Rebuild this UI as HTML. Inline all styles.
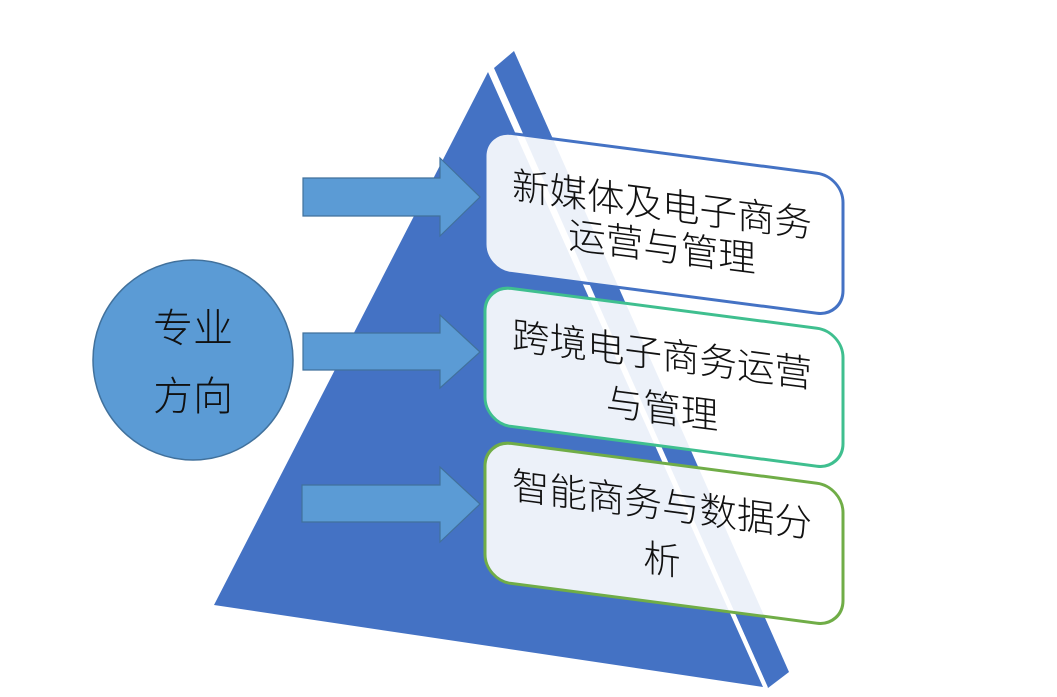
<!DOCTYPE html>
<html><head><meta charset="utf-8"><style>
html,body{margin:0;padding:0;background:#fff;}
svg{display:block;}
text{font-family:"Liberation Sans","Noto Sans CJK SC",sans-serif;fill:#111;font-weight:300;}
</style></head><body>
<svg width="1057" height="697" viewBox="0 0 1057 697" xmlns="http://www.w3.org/2000/svg">
<!-- pyramid -->
<polygon points="488,72 214,605 763,687" fill="#4472c4"/>
<polygon points="494,68 514,51 789,672 768,688" fill="#4472c4"/>
<line x1="491" y1="70" x2="766" y2="688" stroke="#fff" stroke-width="4"/>
<!-- circle -->
<circle cx="193" cy="360" r="100" fill="#5b9bd5" stroke="#41719c" stroke-width="1.5"/>
<text x="193" y="342" font-size="40" text-anchor="middle">专业</text>
<text x="193" y="410" font-size="40" text-anchor="middle">方向</text>
<!-- arrows -->
<polygon points="303,178 440,178 440,158 480,197 440,236 440,216 303,216" fill="#5b9bd5" stroke="#41719c" stroke-width="1.2"/>
<polygon points="303,333 440,333 440,315 480,352 440,388 440,370 303,370" fill="#5b9bd5" stroke="#41719c" stroke-width="1.2"/>
<polygon points="302,485 440,485 440,467 480,504 440,542 440,522 302,522" fill="#5b9bd5" stroke="#41719c" stroke-width="1.2"/>
<!-- boxes -->
<g transform="matrix(1,0.13,0,1,0,-63)">
  <rect x="485" y="130" width="358" height="140" rx="26" fill="rgba(255,255,255,0.9)" stroke="#4472c4" stroke-width="3"/>
  <text x="662" y="195" font-size="37.5" text-anchor="middle">新媒体及电子商务</text>
  <text x="662" y="237" font-size="37.5" text-anchor="middle">运营与管理</text>
  <rect x="485" y="285" width="358" height="138" rx="26" fill="rgba(255,255,255,0.9)" stroke="#3fbf8f" stroke-width="3"/>
  <text x="662" y="345" font-size="37.5" text-anchor="middle">跨境电子商务运营</text>
  <text x="662" y="399" font-size="37.5" text-anchor="middle">与管理</text>
  <rect x="485" y="440" width="358" height="140" rx="26" fill="rgba(255,255,255,0.9)" stroke="#70ad47" stroke-width="3"/>
  <text x="662" y="495" font-size="37.5" text-anchor="middle">智能商务与数据分</text>
  <text x="662" y="550" font-size="37.5" text-anchor="middle">析</text>
</g>
</svg>
</body></html>
